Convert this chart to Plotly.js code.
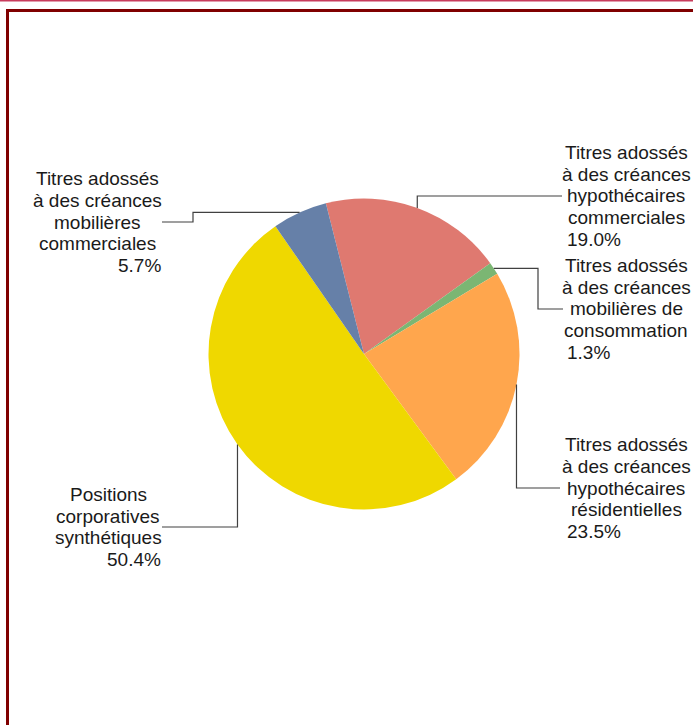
<!DOCTYPE html>
<html>
<head>
<meta charset="utf-8">
<script src="https://cdn.plot.ly/plotly-3.0.1.min.js"></script>
<style>html,body{margin:0;padding:0;background:#fff;}#chart{width:693px;height:725px;}</style>
</head>
<body>
<div id="chart"></div>
<script>
// ---- data ----
const categories = [
  "Titres adossés à des créances hypothécaires commerciales",
  "Titres adossés à des créances mobilières de consommation",
  "Titres adossés à des créances hypothécaires résidentielles",
  "Positions corporatives synthétiques",
  "Titres adossés à des créances mobilières commerciales"
];
const values = [19.0, 1.3, 23.5, 50.4, 5.7];
const percentLabels = ["19.0%", "1.3%", "23.5%", "50.4%", "5.7%"];
const labelLines = [
  ["Titres adossés", "à des créances", "hypothécaires", "commerciales"],
  ["Titres adossés", "à des créances", "mobilières de", "consommation"],
  ["Titres adossés", "à des créances", "hypothécaires", "résidentielles"],
  ["Positions", "corporatives", "synthétiques"],
  ["Titres adossés", "à des créances", "mobilières", "commerciales"]
];
const colors = ["#DF7970", "#7BB673", "#FFA64D", "#EFD800", "#6680A8"];

// ---- layout constants (pixels) ----
const W = 693, H = 725;
const CX = 364, CY = 354, R = 155.5;
const ROT = -14.2;
const FONT = 19, LINE = 21.7;
const TXT = "#1a1a1a";
const connectors = [
  {type: "v", y: 196, xEnd: 562, side: "R", cx: 626},
  {type: "h", xElbow: 538, y: 309, xEnd: 563, side: "R", cx: 626},
  {type: "v", y: 488, xEnd: 560, side: "R", cx: 626},
  {type: "v", y: 527, xEnd: 162, side: "L", cx: 108},
  {type: "h", xElbow: 193, y: 222, xEnd: 162, side: "L", cx: 97}
];
const px = x => x / W;
const py = y => 1 - y / H;

const total = values.reduce((a, b) => a + b, 0);
const shapes = [];
const annotations = [];
let cum = 0;
values.forEach((v, i) => {
  const mid = (ROT + (cum + v / 2) / total * 360) * Math.PI / 180;
  cum += v;
  const ax = CX + R * Math.sin(mid), ay = CY - R * Math.cos(mid);
  const c = connectors[i];
  let pts;
  if (c.type === "v") pts = [[ax, ay], [ax, c.y], [c.xEnd, c.y]];
  else pts = [[ax, ay], [c.xElbow, ay], [c.xElbow, c.y], [c.xEnd, c.y]];
  shapes.push({
    type: "path", xref: "paper", yref: "paper",
    path: pts.map((p, k) => (k ? "L" : "M") + px(p[0]) + "," + py(p[1])).join(" "),
    line: {color: "#404040", width: 1.2}
  });
  const lines = labelLines[i];
  const n = lines.length + 1;
  lines.forEach((t, k) => {
    annotations.push({
      xref: "paper", yref: "paper", x: px(c.cx), y: py(c.y + (k - (n - 1) / 2) * LINE),
      xanchor: "center", yanchor: "middle", text: t, showarrow: false, borderpad: 0,
      font: {family: "Liberation Sans, Arial, sans-serif", size: FONT, color: TXT}
    });
  });
  const right = c.side === "R";
  annotations.push({
    xref: "paper", yref: "paper", x: px(right ? 566 : 162), y: py(c.y + (n - 1 - (n - 1) / 2) * LINE),
    xanchor: right ? "left" : "right", yanchor: "middle", text: percentLabels[i], showarrow: false, borderpad: 0,
    font: {family: "Liberation Sans, Arial, sans-serif", size: FONT, color: TXT}
  });
});

// frame
shapes.push({type: "rect", xref: "paper", yref: "paper", x0: 0, x1: 1, y0: py(0), y1: py(1.6),
  fillcolor: "#C83C5C", line: {width: 0}});
shapes.push({type: "rect", xref: "paper", yref: "paper", x0: px(7.5), x1: px(720), y0: py(760), y1: py(10.5),
  fillcolor: "rgba(0,0,0,0)", line: {color: "#800000", width: 3}});

const trace = {
  type: "pie",
  labels: categories,
  values: values,
  sort: false,
  direction: "clockwise",
  rotation: ROT,
  textinfo: "none",
  hoverinfo: "label+percent",
  marker: {colors: colors, line: {width: 0}},
  domain: {x: [px(CX - R), px(CX + R)], y: [py(CY + R), py(CY - R)]},
  showlegend: false
};

Plotly.newPlot("chart", [trace], {
  width: W, height: H,
  margin: {l: 0, r: 0, t: 0, b: 0},
  paper_bgcolor: "#ffffff",
  showlegend: false,
  shapes: shapes,
  annotations: annotations
}, {displayModeBar: false, staticPlot: true});
</script>
</body>
</html>
